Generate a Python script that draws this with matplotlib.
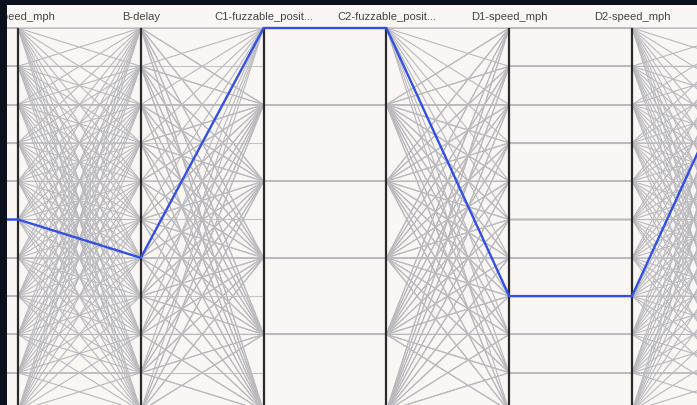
import matplotlib
matplotlib.use("Agg")
import matplotlib.pyplot as plt

# sweep runs, one character per run, base-11 levels ("a" = 10)
axis_names = [
    "A1-speed_mph",
    "A2-speed_mph",
    "B-delay",
    "C1-fuzzable_position",
    "C2-fuzzable_position",
    "D1-speed_mph",
    "D2-speed_mph",
    "E-delay",
]
axis_max = [10, 10, 10, 5, 5, 10, 10, 10]

A_speed = [
    "00000000000", "11111111111", "22222222222", "33333333333",
    "44444444444", "55555555555", "66666666666", "77777777777",
    "88888888888", "99999999999", "aaaaaaaaaaa",
]
B_delay = [
    "0123456789a", "0123456789a", "0123456789a", "0123456789a",
    "0123456789a", "0123456789a", "0123456789a", "0123456789a",
    "0123456789a", "0123456789a", "0123456789a",
]
C_position = [
    "00000000000", "11111111111", "22222222222", "33333333333",
    "44444444444", "55555555555", "00000000000", "11111111111",
    "22222222222", "33333333333", "44444444444",
]
D_speed = [
    "02468a13579", "1357902468a", "2468a135790", "357902468a1",
    "468a1357902", "57902468a13", "68a13579024", "7902468a135",
    "8a135790246", "902468a1357", "a1357902468",
]
E_delay = [
    "0123456789a", "123456789a0", "23456789a01", "3456789a012",
    "456789a0123", "56789a01234", "6789a012345", "789a0123456",
    "89a01234567", "9a012345678", "a0123456789",
]

# highlighted run
best_run = [5, 5, 4, 5, 5, 3, 3, 10]


def _levels(blocks):
    return [int(ch, 11) for block in blocks for ch in block]


def _short(name):
    return name if len(name) <= 18 else name[:17] + "..."


columns = [
    _levels(A_speed),
    _levels(A_speed),
    _levels(B_delay),
    _levels(C_position),
    _levels(C_position),
    _levels(D_speed),
    _levels(D_speed),
    _levels(E_delay),
]

fig = plt.figure(figsize=(6.97, 4.05), dpi=100)
fig.patch.set_facecolor("#0a101c")
ax = fig.add_axes([7 / 697, 0, 690 / 697, 400 / 405])
ax.set_facecolor("#f9f6f4")
for spine in ax.spines.values():
    spine.set_visible(False)
ax.set_xticks([])
ax.set_yticks([])

xs = list(range(len(axis_names)))

# tick lines: each axis' levels run across to the next axis
for k in xs:
    ticks = [v / axis_max[k] for v in sorted(set(columns[k]))]
    ax.hlines(ticks, k, k + 1, color="#c4c4c8", lw=0.8, zorder=1)

n_runs = len(columns[0])
for r in range(n_runs):
    ys = [columns[k][r] / axis_max[k] for k in xs]
    ax.plot(xs, ys, color="#b9b9be", lw=0.8, zorder=2)

ax.vlines(xs, 0, 1, color="#2b2b2b", lw=1.6, zorder=3)

ax.plot(xs, [v / m for v, m in zip(best_run, axis_max)],
        color="#3350e6", lw=1.7, zorder=4)

for k, name in enumerate(axis_names):
    ax.text(k, 1.0287, _short(name), ha="center", va="center",
            fontsize=8, family="Liberation Sans", color="#444444",
            clip_on=True, zorder=5)

# crop: axis A2 at the left edge, D2 near the right
ax.set_xlim(1 - 11 / 122.8, 1 + 679 / 122.8)
ax.set_ylim(1 - 377 / 383, 1 + 23 / 383)

fig.savefig("out.png", dpi=100, facecolor=fig.get_facecolor())
